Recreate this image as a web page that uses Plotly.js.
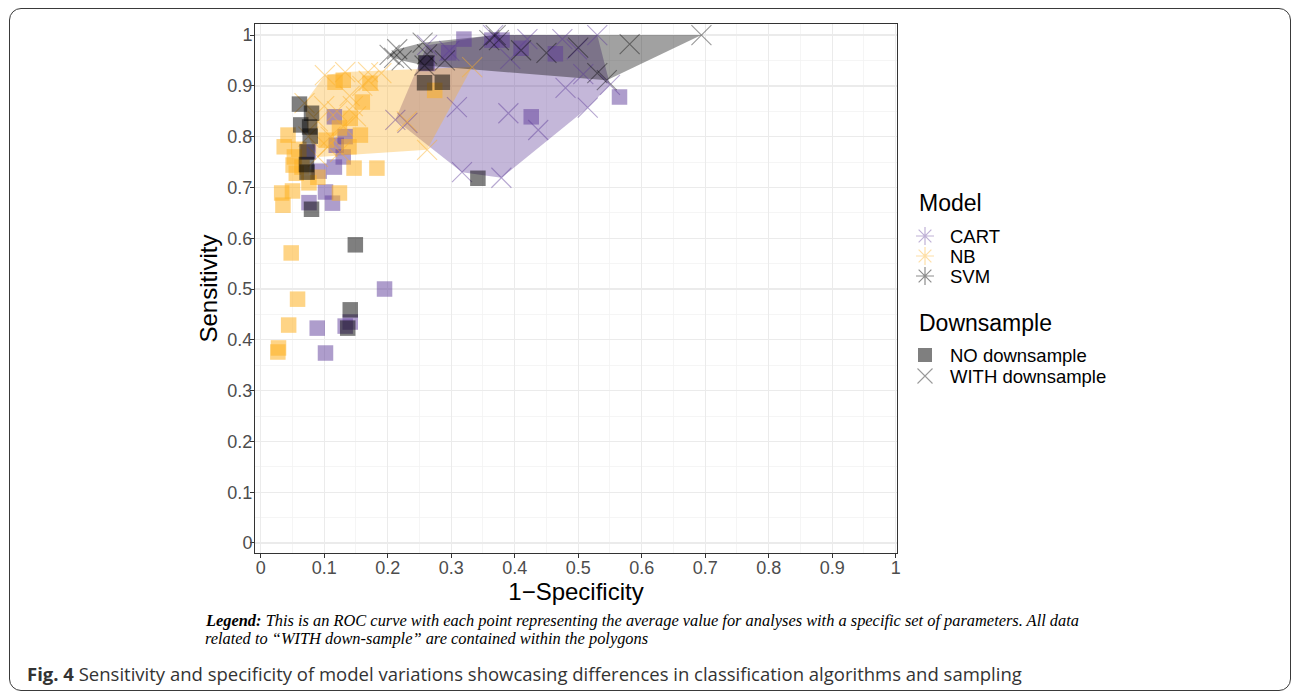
<!DOCTYPE html>
<html>
<head>
<meta charset="utf-8">
<script src="https://cdn.plot.ly/plotly-3.0.1.min.js"></script>
<style>
  html, body { margin: 0; padding: 0; background: #ffffff; }
  #wrap { position: relative; width: 1293px; height: 691px; overflow: hidden; background: #ffffff; }
  #chart { position: absolute; left: 0; top: 0; width: 1293px; height: 691px; }
  #frame { position: absolute; left: 9px; top: 8px; width: 1280px; height: 681px;
           border: 1.5px solid #3a3a3a; border-radius: 12px; pointer-events: none; }
</style>
</head>
<body>
<div id="wrap">
  <div id="chart"></div>
  <div id="frame"></div>
</div>
<script>
// ---------------- DATA ----------------
const models = ["CART", "NB", "SVM"];
const downsampleLabels = ["NO downsample", "WITH downsample"];

// NO downsample (squares)
const cartNoX = [0.320, 0.296, 0.364, 0.380, 0.410, 0.464, 0.565, 0.426, 0.262, 0.195, 0.102, 0.089, 0.133, 0.141, 0.076, 0.113, 0.102, 0.092, 0.116, 0.116, 0.133, 0.130, 0.119, 0.075];
const cartNoY = [0.992, 0.965, 0.990, 0.990, 0.974, 0.963, 0.878, 0.839, 0.944, 0.500, 0.374, 0.423, 0.427, 0.435, 0.670, 0.669, 0.691, 0.732, 0.740, 0.839, 0.800, 0.760, 0.783, 0.770];

const nbNoX = [0.117, 0.130, 0.172, 0.160, 0.141, 0.124, 0.157, 0.043, 0.037, 0.053, 0.051, 0.139, 0.147, 0.183, 0.103, 0.056, 0.076, 0.033, 0.050, 0.035, 0.124, 0.274, 0.048, 0.058, 0.044, 0.027, 0.028, 0.065, 0.090, 0.060];
const nbNoY = [0.907, 0.911, 0.905, 0.868, 0.836, 0.817, 0.803, 0.803, 0.780, 0.760, 0.744, 0.780, 0.738, 0.738, 0.793, 0.728, 0.709, 0.689, 0.693, 0.665, 0.689, 0.891, 0.571, 0.480, 0.429, 0.376, 0.384, 0.740, 0.720, 0.775];

const svmNoX = [0.061, 0.063, 0.080, 0.077, 0.078, 0.073, 0.072, 0.073, 0.080, 0.149, 0.141, 0.137, 0.342, 0.260, 0.258, 0.286];
const svmNoY = [0.864, 0.823, 0.846, 0.819, 0.801, 0.770, 0.745, 0.730, 0.657, 0.587, 0.459, 0.423, 0.718, 0.945, 0.906, 0.907];

// WITH downsample (crosses)
const cartWithX = [0.212, 0.231, 0.262, 0.309, 0.390, 0.437, 0.317, 0.379, 0.480, 0.515, 0.550, 0.508, 0.475, 0.530, 0.498, 0.420, 0.366, 0.393, 0.297];
const cartWithY = [0.833, 0.827, 0.980, 0.858, 0.846, 0.813, 0.730, 0.719, 0.896, 0.857, 0.902, 0.923, 0.992, 1.000, 0.972, 0.992, 1.000, 0.953, 0.969];

const nbWithX = [0.333, 0.262, 0.101, 0.133, 0.169, 0.190, 0.069, 0.075, 0.090, 0.100, 0.120, 0.140, 0.160, 0.110, 0.130, 0.150, 0.090, 0.170, 0.105, 0.125, 0.145, 0.230];
const nbWithY = [0.937, 0.774, 0.921, 0.927, 0.927, 0.925, 0.866, 0.800, 0.760, 0.860, 0.850, 0.880, 0.900, 0.800, 0.820, 0.840, 0.830, 0.910, 0.780, 0.770, 0.860, 0.830];

const svmWithX = [0.203, 0.215, 0.255, 0.370, 0.694, 0.545, 0.258, 0.210, 0.222, 0.262, 0.360, 0.375, 0.410, 0.450, 0.500, 0.581, 0.530, 0.290];
const svmWithY = [0.961, 0.972, 0.985, 1.000, 1.000, 0.911, 0.940, 0.955, 0.950, 0.962, 0.990, 0.990, 0.970, 0.965, 0.975, 0.982, 0.925, 0.950];

const xTicks = [0, 0.1, 0.2, 0.3, 0.4, 0.5, 0.6, 0.7, 0.8, 0.9, 1];
const xTickText = ["0", "0.1", "0.2", "0.3", "0.4", "0.5", "0.6", "0.7", "0.8", "0.9", "1"];
const yTicks = [0, 0.1, 0.2, 0.3, 0.4, 0.5, 0.6, 0.7, 0.8, 0.9, 1];
const yTickText = ["0", "0.1", "0.2", "0.3", "0.4", "0.5", "0.6", "0.7", "0.8", "0.9", "1"];
const minorTicks = [0.05, 0.15, 0.25, 0.35, 0.45, 0.55, 0.65, 0.75, 0.85, 0.95];

// ---------------- STYLE ----------------
const W = 1293, H = 691;
const colors = { CART: [94, 60, 153], NB: [253, 176, 35], SVM: [0, 0, 0] };
const rgba = (c, a) => `rgba(${c[0]},${c[1]},${c[2]},${a})`;
const SANS = "Liberation Sans, Arial, Helvetica, sans-serif";

// convex hull (monotone chain) of the WITH-downsample points
function hull(xs, ys) {
  const pts = xs.map((x, i) => [x, ys[i]]).sort((a, b) => a[0] - b[0] || a[1] - b[1]);
  const cross = (o, a, b) => (a[0] - o[0]) * (b[1] - o[1]) - (a[1] - o[1]) * (b[0] - o[0]);
  const lower = [], upper = [];
  for (const p of pts) {
    while (lower.length >= 2 && cross(lower[lower.length - 2], lower[lower.length - 1], p) <= 0) lower.pop();
    lower.push(p);
  }
  for (let i = pts.length - 1; i >= 0; i--) {
    const p = pts[i];
    while (upper.length >= 2 && cross(upper[upper.length - 2], upper[upper.length - 1], p) <= 0) upper.pop();
    upper.push(p);
  }
  upper.pop(); lower.pop();
  const h = lower.concat(upper);
  h.push(h[0]);
  return { x: h.map(p => p[0]), y: h.map(p => p[1]) };
}

const series = {
  CART: { noX: cartNoX, noY: cartNoY, wX: cartWithX, wY: cartWithY },
  NB: { noX: nbNoX, noY: nbNoY, wX: nbWithX, wY: nbWithY },
  SVM: { noX: svmNoX, noY: svmNoY, wX: svmWithX, wY: svmWithY }
};

const sqAlpha = { CART: 0.5, NB: 0.55, SVM: 0.5 };
const xAlpha = { CART: 0.45, NB: 0.45, SVM: 0.4 };
const hullAlpha = { CART: 0.37, NB: 0.35, SVM: 0.37 };

const traces = [];
for (const m of models) {
  const h = hull(series[m].wX, series[m].wY);
  traces.push({
    x: h.x, y: h.y, type: "scatter", mode: "lines", fill: "toself",
    fillcolor: rgba(colors[m], hullAlpha[m]), line: { width: 0, color: "rgba(0,0,0,0)" },
    hoverinfo: "skip", showlegend: false
  });
}
for (const m of models) {
  traces.push({
    x: series[m].noX, y: series[m].noY, type: "scatter", mode: "markers",
    marker: { symbol: "square", size: 15.5, color: rgba(colors[m], sqAlpha[m]), line: { width: 0 } },
    showlegend: false, name: m
  });
  traces.push({
    x: series[m].wX, y: series[m].wY, type: "scatter", mode: "markers",
    marker: { symbol: "x-thin-open", size: 20, color: rgba(colors[m], xAlpha[m]), line: { width: 1.1, color: rgba(colors[m], xAlpha[m]) } },
    showlegend: false, name: m
  });
}

// plot panel in pixels: x 255..897, y 24..553; paper now spans the whole figure
const PL = 255, PR = 897, PT = 24, PB = 553;
const px = X => X / W;
const py = Y => 1 - Y / H;

// ---- ggplot-style legend keys on a hidden full-figure pixel axis (x2/y2) ----
const KEY_X = 925, TEXT_X = 948;
const modelRowY = [236, 256, 276];
const dsRowY = [355, 376];
models.forEach((m, i) => {
  traces.push({
    x: [KEY_X], y: [modelRowY[i]], xaxis: "x2", yaxis: "y2", type: "scatter", mode: "markers",
    showlegend: false, hoverinfo: "skip",
    marker: { symbol: "asterisk-open", size: 15, color: rgba(colors[m], m === "SVM" ? 0.45 : 0.4),
              line: { width: 1.2, color: rgba(colors[m], m === "SVM" ? 0.45 : 0.4) } }
  });
});
traces.push({
  x: [KEY_X], y: [dsRowY[0]], xaxis: "x2", yaxis: "y2", type: "scatter", mode: "markers",
  showlegend: false, hoverinfo: "skip",
  marker: { symbol: "square", size: 14, color: "rgba(0,0,0,0.5)" }
});
traces.push({
  x: [KEY_X], y: [dsRowY[1]], xaxis: "x2", yaxis: "y2", type: "scatter", mode: "markers",
  showlegend: false, hoverinfo: "skip",
  marker: { symbol: "x-thin-open", size: 15, color: "rgba(0,0,0,0.4)", line: { width: 1.1, color: "rgba(0,0,0,0.4)" } }
});

const axisCommon = {
  showgrid: true, gridcolor: "#EBEBEB", gridwidth: 1.4,
  zeroline: false, showline: true, mirror: true, linecolor: "#333333", linewidth: 1,
  ticks: "outside", ticklen: 4, tickcolor: "#333333", tickwidth: 1,
  ticklabelstandoff: -6,
  tickfont: { family: SANS, size: 18, color: "#4D4D4D" },
  minor: { tickmode: "array", tickvals: minorTicks, showgrid: true, gridcolor: "#F2F2F2", gridwidth: 0.8, ticks: "" }
};

const annotations = [
  { x: px(917), y: py(203), text: "Model", font: { family: SANS, size: 23, color: "#000" } },
  { x: px(917), y: py(323), text: "Downsample", font: { family: SANS, size: 23, color: "#000" } }
];
models.forEach((m, i) => annotations.push({ x: px(TEXT_X), y: py(modelRowY[i]), text: m, font: { family: SANS, size: 18.5, color: "#000" } }));
downsampleLabels.forEach((d, i) => annotations.push({ x: px(TEXT_X), y: py(dsRowY[i]), text: d, font: { family: SANS, size: 18.5, color: "#000" } }));
annotations.push(
  { x: px(203), y: py(620),
    text: "<b><i>Legend:</i></b><i> This is an ROC curve with each point representing the average value for analyses with a specific set of parameters. All data</i>",
    font: { family: "Liberation Serif, Times New Roman, serif", size: 16.4, color: "#000" } },
  { x: px(203), y: py(638),
    text: "<i>related to \u201CWITH down-sample\u201D are contained within the polygons</i>",
    font: { family: "Liberation Serif, Times New Roman, serif", size: 16.4, color: "#000" } },
  { x: px(25), y: py(673),
    text: "<b>Fig. 4</b> Sensitivity and specificity of model variations showcasing differences in classification algorithms and sampling",
    font: { family: "Open Sans, sans-serif", size: 18.5, color: "#333333" } }
);
annotations.forEach(a => Object.assign(a, { xref: "paper", yref: "paper", xanchor: "left", yanchor: "middle", showarrow: false }));

const layout = {
  width: W, height: H,
  margin: { l: 0, r: 0, t: 0, b: 0, pad: 0 },
  paper_bgcolor: "rgba(0,0,0,0)", plot_bgcolor: "rgba(0,0,0,0)",
  font: { family: SANS, color: "#000000" },
  showlegend: false,
  xaxis: Object.assign({}, axisCommon, {
    domain: [PL / W, PR / W], anchor: "y",
    range: [-0.009, 1.002], tickmode: "array", tickvals: xTicks, ticktext: xTickText,
    title: { text: "1\u2212Specificity", font: { family: SANS, size: 24, color: "#000" }, standoff: 0 }
  }),
  yaxis: Object.assign({}, axisCommon, {
    domain: [1 - PB / H, 1 - PT / H], anchor: "x",
    range: [-0.0197, 1.0217], tickmode: "array", tickvals: yTicks, ticktext: yTickText,
    title: { text: "Sensitivity", font: { family: SANS, size: 24, color: "#000" }, standoff: 2 }
  }),
  xaxis2: { domain: [0, 1], anchor: "y2", range: [0, W], visible: false, fixedrange: true, showgrid: false, zeroline: false },
  yaxis2: { domain: [0, 1], anchor: "x2", range: [H, 0], visible: false, fixedrange: true, showgrid: false, zeroline: false },
  annotations: annotations
};

Plotly.newPlot("chart", traces, layout, { displayModeBar: false, staticPlot: true });
</script>
</body>
</html>
